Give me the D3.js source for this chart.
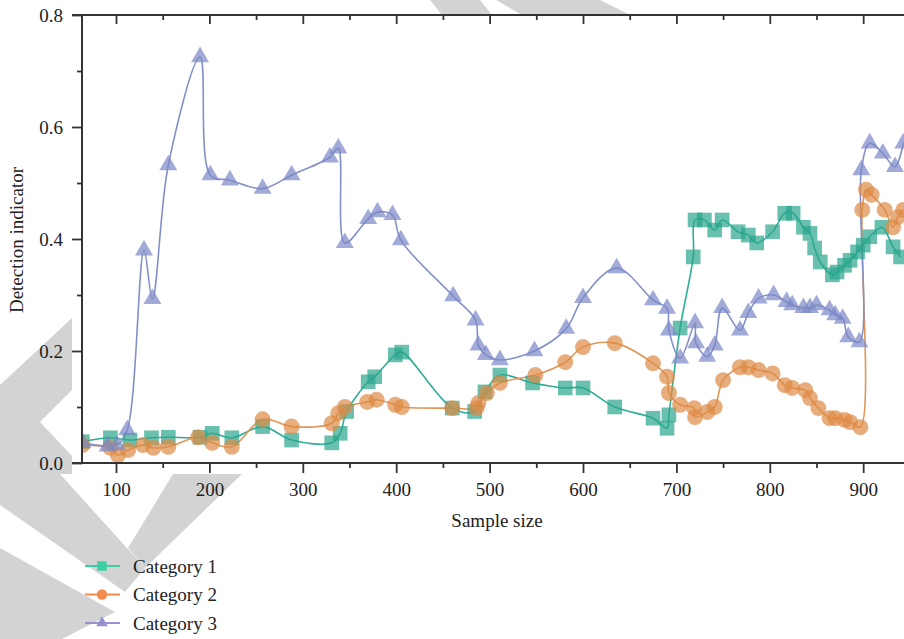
<!DOCTYPE html>
<html>
<head>
<meta charset="utf-8">
<script src="https://cdn.jsdelivr.net/npm/d3@7"></script>
<style>
  body { margin: 0; background: #fff; }
  text { font-family: "Liberation Serif", "DejaVu Serif", serif; fill: #222; }
</style>
</head>
<body>
<div id="chart"></div>
<script>
// Category 1 (squares)
var size1 = [64, 94, 115, 138, 156, 190, 203, 224, 257, 288, 331, 340, 347, 370, 377, 399, 406, 460, 484, 495, 511, 546, 581, 600, 634, 675, 690, 692, 704, 718, 720, 730, 741, 749, 766, 777, 786, 803, 816, 825, 836, 843, 848, 854, 867, 872, 880, 886, 894, 900, 907, 920, 932, 940];
var ind1  = [0.038, 0.045, 0.041, 0.045, 0.046, 0.046, 0.053, 0.045, 0.065, 0.041, 0.036, 0.053, 0.092, 0.145, 0.154, 0.193, 0.198, 0.098, 0.092, 0.127, 0.157, 0.143, 0.134, 0.134, 0.100, 0.080, 0.062, 0.086, 0.241, 0.368, 0.434, 0.434, 0.416, 0.434, 0.413, 0.407, 0.393, 0.413, 0.446, 0.446, 0.421, 0.410, 0.384, 0.359, 0.336, 0.341, 0.353, 0.362, 0.377, 0.389, 0.404, 0.421, 0.386, 0.368];

// Category 2 (circles)
var size2 = [64, 94, 102, 113, 129, 140, 156, 188, 203, 224, 257, 288, 331, 338, 345, 369, 379, 399, 406, 460, 486, 488, 497, 511, 549, 581, 600, 634, 675, 690, 692, 704, 719, 720, 733, 741, 750, 768, 777, 788, 803, 816, 824, 838, 843, 852, 864, 870, 880, 886, 897, 899, 903, 909, 923, 932, 937, 943];
var ind2  = [0.032, 0.027, 0.014, 0.023, 0.032, 0.027, 0.029, 0.046, 0.036, 0.029, 0.078, 0.065, 0.071, 0.089, 0.100, 0.109, 0.113, 0.104, 0.100, 0.098, 0.098, 0.107, 0.125, 0.143, 0.157, 0.180, 0.207, 0.214, 0.178, 0.154, 0.125, 0.104, 0.098, 0.082, 0.091, 0.100, 0.148, 0.171, 0.171, 0.166, 0.160, 0.139, 0.134, 0.130, 0.116, 0.098, 0.080, 0.080, 0.077, 0.073, 0.064, 0.452, 0.488, 0.479, 0.452, 0.421, 0.439, 0.452];

// Category 3 (triangles)
var size3 = [64, 91, 101, 112, 130, 139, 156, 190, 201, 222, 257, 288, 329, 338, 345, 370, 380, 396, 405, 461, 485, 488, 496, 511, 548, 582, 600, 636, 675, 690, 692, 704, 720, 721, 733, 741, 749, 768, 777, 788, 804, 818, 824, 836, 843, 850, 864, 870, 878, 884, 896, 898, 907, 921, 934, 943];
var ind3  = [0.036, 0.030, 0.032, 0.059, 0.380, 0.293, 0.532, 0.725, 0.514, 0.505, 0.490, 0.514, 0.546, 0.562, 0.393, 0.436, 0.448, 0.443, 0.398, 0.298, 0.255, 0.210, 0.193, 0.184, 0.200, 0.240, 0.295, 0.348, 0.291, 0.276, 0.237, 0.187, 0.250, 0.214, 0.190, 0.210, 0.277, 0.237, 0.268, 0.294, 0.300, 0.288, 0.282, 0.277, 0.277, 0.282, 0.273, 0.264, 0.258, 0.225, 0.216, 0.523, 0.571, 0.553, 0.529, 0.571];

var categories = ["Category 1", "Category 2", "Category 3"];
var xMajor = [100, 200, 300, 400, 500, 600, 700, 800, 900];
var xMinor = [150, 250, 350, 450, 550, 650, 750, 850];
var yMajor = [0, 0.2, 0.4, 0.6, 0.8];
var yMinor = [0.1, 0.3, 0.5, 0.7];

var width = 904, height = 639;

var svg = d3.select("#chart").append("svg")
    .attr("width", width)
    .attr("height", height);

// grey watermark behind the figure
var wm = svg.append("g").attr("fill", "#d3d3d3");
var wmShapes = [
    [[72, 318], [0, 385], [0, 474], [72, 474], [72, 456], [40, 422], [72, 390]],
    [[0, 474], [60, 474], [145, 568], [125, 592], [0, 505]],
    [[173, 474], [242, 474], [145, 568], [128, 548]],
    [[0, 548], [115, 612], [62, 639], [0, 639]],
    [[430, 0], [480, 0], [492, 15], [442, 15]],
    [[496, 0], [600, 0], [630, 15], [522, 15]]
];
wmShapes.forEach(function(p){
    wm.append("polygon").attr("points", p.map(function(d){ return d.join(","); }).join(" "));
});

// figure background covers the watermark
svg.append("rect")
    .attr("x", 72).attr("y", 14)
    .attr("width", width - 72).attr("height", 460)
    .attr("fill", "#fff");

var x = d3.scaleLinear().domain([63.6, 1000]).range([82, 956.6]);
var y = d3.scaleLinear().domain([0, 0.8]).range([463, 15]);

var series = [
    { name: categories[0], xs: size1, ys: ind1, line: "#2fae96", fill: "#2aa58c", legend: "#3ccfa6", shape: d3.symbolSquare, size: 215 },
    { name: categories[1], xs: size2, ys: ind2, line: "#df9656", fill: "#de8a45", legend: "#f48a4c", shape: d3.symbolCircle, size: 200 },
    { name: categories[2], xs: size3, ys: ind3, line: "#8490ca", fill: "#7b87c6", legend: "#9692cf", shape: d3.symbolTriangle, size: 140 }
];

var line = d3.line()
    .x(function(d){ return x(d[0]); })
    .y(function(d){ return y(d[1]); })
    .curve(d3.curveCatmullRom.alpha(0.5));

svg.append("clipPath").attr("id", "plotclip")
    .append("rect").attr("x", 82).attr("y", 15).attr("width", width - 82).attr("height", 448);

var plot = svg.append("g").attr("clip-path", "url(#plotclip)");

series.forEach(function(s){
    var pts = s.xs.map(function(v, i){ return [v, s.ys[i]]; });
    plot.append("path")
        .datum(pts)
        .attr("fill", "none")
        .attr("stroke", s.line)
        .attr("stroke-width", 1.6)
        .attr("d", line);
});

series.forEach(function(s){
    var pts = s.xs.map(function(v, i){ return [v, s.ys[i]]; });
    plot.append("g").selectAll("path")
        .data(pts)
        .enter()
        .append("path")
        .attr("d", d3.symbol().type(s.shape).size(s.size))
        .attr("transform", function(d){ return "translate(" + x(d[0]) + "," + y(d[1]) + ")"; })
        .attr("fill", s.fill)
        .attr("fill-opacity", 0.7);
});

// axes
var axisColor = "#333";

svg.append("g").attr("transform", "translate(0,463)")
    .call(d3.axisBottom(x).tickValues(xMajor).tickSize(10).tickPadding(10).tickFormat(d3.format("d")));
svg.append("g").attr("transform", "translate(0,463)")
    .call(d3.axisBottom(x).tickValues(xMinor).tickSize(5).tickFormat(""));
svg.append("g").attr("transform", "translate(0,15)")
    .call(d3.axisBottom(x).tickValues(xMajor).tickSize(9).tickFormat(""));
svg.append("g").attr("transform", "translate(0,15)")
    .call(d3.axisBottom(x).tickValues(xMinor).tickSize(5).tickFormat(""));

svg.append("g").attr("transform", "translate(82,0)")
    .call(d3.axisLeft(y).tickValues(yMajor).tickSize(10).tickPadding(9).tickFormat(d3.format(".1f")));
svg.append("g").attr("transform", "translate(82,0)")
    .call(d3.axisLeft(y).tickValues(yMinor).tickSize(5).tickFormat(""));

svg.selectAll(".domain").remove();
svg.selectAll(".tick line").attr("stroke", axisColor).attr("stroke-width", 1.8);
svg.selectAll(".tick text").style("font-size", "19px").attr("fill", "#222");

// spines
svg.append("line").attr("x1", 72).attr("x2", width).attr("y1", 463).attr("y2", 463)
    .attr("stroke", axisColor).attr("stroke-width", 2);
svg.append("line").attr("x1", 72).attr("x2", width).attr("y1", 15).attr("y2", 15)
    .attr("stroke", axisColor).attr("stroke-width", 2);
svg.append("line").attr("x1", 82).attr("x2", 82).attr("y1", 15).attr("y2", 463)
    .attr("stroke", axisColor).attr("stroke-width", 2);

// axis titles
svg.append("text")
    .attr("x", 497).attr("y", 527)
    .attr("text-anchor", "middle")
    .style("font-size", "19px")
    .text("Sample size");

svg.append("text")
    .attr("transform", "translate(23,240) rotate(-90)")
    .attr("text-anchor", "middle")
    .style("font-size", "19px")
    .text("Detection indicator");

// legend
var legend = svg.append("g");
series.forEach(function(s, i){
    var cy = 566 + i * 28.5;
    legend.append("line")
        .attr("x1", 85).attr("x2", 120).attr("y1", cy).attr("y2", cy)
        .attr("stroke", s.legend).attr("stroke-width", 2);
    legend.append("path")
        .attr("d", d3.symbol().type(s.shape).size(s.size * 0.42))
        .attr("transform", "translate(102," + cy + ")")
        .attr("fill", s.legend);
    legend.append("text")
        .attr("x", 133).attr("y", cy + 6.5)
        .style("font-size", "19px")
        .text(s.name);
});
</script>
</body>
</html>
